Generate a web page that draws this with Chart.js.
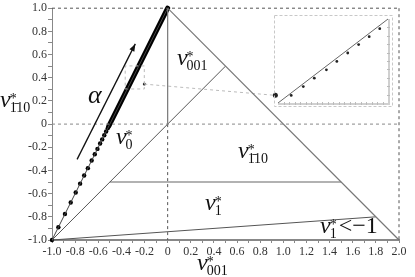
<!DOCTYPE html>
<html>
<head>
<meta charset="utf-8">
<script src="https://cdn.jsdelivr.net/npm/chart.js@4.4.1/dist/chart.umd.min.js"></script>
<style>
  body { margin: 0; background: #fff; }
  #wrap { position: relative; width: 415px; height: 277px; }
  #inset { position: absolute; left: 274px; top: 15px; }
</style>
</head>
<body>
<div id="wrap">
  <canvas id="main" width="415" height="277"></canvas>
  <canvas id="inset" width="119" height="92"></canvas>
</div>
<script>
// tick labels
const xTickLabels = [-1.0, -0.8, -0.6, -0.4, -0.2, 0, 0.2, 0.4, 0.6, 0.8, 1.0, 1.2, 1.4, 1.6, 1.8, 2.0];
const yTickLabels = [-1.0, -0.8, -0.6, -0.4, -0.2, 0, 0.2, 0.4, 0.6, 0.8, 1.0];

// region boundaries
const edgeLeft = [[-1, -1], [0, 1]];
const edgeRight = [[0, 1], [2, -1]];
const split001 = [[0, 1], [0, 0]];
const splitNu0 = [[-1, -1], [0.5, 0.5]];
const split110 = [[-0.5, -0.5], [1.5, -0.5]];
const splitNu1 = [[-1, -1], [1.8, -0.8]];

// dashed reference lines
const refY0 = [[-1, 0], [2, 0]];
const refX0 = [[0, 0], [0, -1]];
const refTop = [[-1, 1], [2, 1]];
const refRight = [[2, 1], [2, -1]];

// alpha path points (sparse part)
const alphaX = [-1.0, -0.945, -0.888, -0.838, -0.795, -0.757, -0.722, -0.690, -0.657, -0.630, -0.607, -0.584, -0.566, -0.548, -0.532, -0.518];
const alphaY = [-1.0, -0.890, -0.776, -0.676, -0.590, -0.514, -0.444, -0.380, -0.314, -0.260, -0.214, -0.168, -0.132, -0.096, -0.064, -0.036];
// dense part, dots merge into a thick line
const denseX = [-0.51, 0];
const denseY = [-0.02, 1];

// zoom box and connector
const zoomBox = [[-0.367, 0.303], [-0.202, 0.303], [-0.202, 0.502], [-0.367, 0.502], [-0.367, 0.303]];
const connector = [[-0.202, 0.345], [0.931, 0.248]];

// inset data
const insetLine = [[-0.35, 0.3], [-0.25, 0.5]];
const insetX = [-0.338, -0.327, -0.317, -0.306, -0.2965, -0.2866, -0.2767, -0.2671, -0.2575];
const insetY = [0.318, 0.339, 0.359, 0.379, 0.399, 0.419, 0.439, 0.458, 0.477];

// arrow for alpha direction
const arrowPts = [[-0.783, -0.304], [-0.28, 0.692]];

const SERIF = '"Liberation Serif", "DejaVu Serif", serif';

const pts = a => a.map(p => ({ x: p[0], y: p[1] }));
const zipPts = (xs, ys) => xs.map((x, i) => ({ x: x, y: ys[i] }));

function seg(data, color, width, dash) {
  return {
    data: pts(data), showLine: true, borderColor: color, borderWidth: width,
    borderDash: dash || [], pointRadius: 0, clip: false, tension: 0
  };
}

function drawNu(ctx, x, y, sub, tail) {
  ctx.save();
  ctx.fillStyle = '#111';
  ctx.textBaseline = 'alphabetic';
  ctx.textAlign = 'left';
  ctx.font = 'italic 24px ' + SERIF;
  ctx.fillText('\u03bd', x, y);
  const w = ctx.measureText('\u03bd').width;
  ctx.font = '14px ' + SERIF;
  ctx.fillText('*', x + w - 1, y - 4);
  ctx.fillText(sub, x + w - 1, y + 5);
  const sw = ctx.measureText(sub).width;
  if (tail) {
    ctx.font = '24px ' + SERIF;
    ctx.fillText(tail, x + w + sw + 1, y);
  }
  ctx.restore();
}

const plotLabels = [
  { sub: '001', x: 0.08, y: 0.51 },
  { sub: '0', x: -0.447, y: -0.171 },
  { sub: '1\u030410', x: 0.608, y: -0.29 },
  { sub: '1', x: 0.323, y: -0.744 },
  { sub: '1', x: 1.317, y: -0.94, tail: '<\u22121' }
];

const annotate = {
  id: 'annotate',
  afterDatasetsDraw(chart) {
    const ctx = chart.ctx, xs = chart.scales.x, ys = chart.scales.y;
    plotLabels.forEach(l => drawNu(ctx, xs.getPixelForValue(l.x), ys.getPixelForValue(l.y), l.sub, l.tail));
    // alpha
    ctx.save();
    ctx.fillStyle = '#111';
    ctx.font = 'italic 26px ' + SERIF;
    ctx.fillText('\u03b1', xs.getPixelForValue(-0.689), ys.getPixelForValue(0.18));
    // arrow
    const x1 = xs.getPixelForValue(arrowPts[0][0]), y1 = ys.getPixelForValue(arrowPts[0][1]);
    const x2 = xs.getPixelForValue(arrowPts[1][0]), y2 = ys.getPixelForValue(arrowPts[1][1]);
    ctx.strokeStyle = '#111';
    ctx.lineWidth = 1.3;
    ctx.beginPath(); ctx.moveTo(x1, y1); ctx.lineTo(x2, y2); ctx.stroke();
    const ang = Math.atan2(y2 - y1, x2 - x1);
    ctx.beginPath();
    ctx.moveTo(x2, y2);
    ctx.lineTo(x2 - 8 * Math.cos(ang - 0.35), y2 - 8 * Math.sin(ang - 0.35));
    ctx.lineTo(x2 - 8 * Math.cos(ang + 0.35), y2 - 8 * Math.sin(ang + 0.35));
    ctx.closePath(); ctx.fill();
    ctx.restore();
    // axis titles
    drawNu(ctx, 197, 270, '001');
    drawNu(ctx, 0, 107, '1\u030410');
  }
};

new Chart(document.getElementById('main'), {
  type: 'scatter',
  data: {
    datasets: [
      seg(refY0, '#888', 1, [3, 3]),
      seg(refX0, '#555', 1, [3, 3]),
      seg(refTop, '#555', 1, [3, 3]),
      seg(refRight, '#555', 1, [3, 3]),
      seg(edgeRight, '#777', 1.2),
      seg(split001, '#777', 1.2),
      seg(splitNu0, '#555', 1),
      seg(split110, '#999', 1.6),
      seg(splitNu1, '#555', 1),
      seg(edgeLeft, '#444', 1),
      seg(zoomBox, '#bbb', 1, [3, 3]),
      seg(connector, '#bbb', 1, [3, 3]),
      {
        data: pts(connector), showLine: false, pointRadius: [1.5, 2.5],
        pointBackgroundColor: '#222', pointBorderWidth: 0, clip: false
      },
      {
        data: zipPts(denseX, denseY), showLine: true, borderColor: '#000', borderWidth: 5,
        borderCapStyle: 'round', pointRadius: 0, clip: false
      },
      {
        data: zipPts(alphaX, alphaY), showLine: false, pointRadius: 2.2,
        pointBackgroundColor: '#000', pointBorderWidth: 0, clip: false
      }
    ]
  },
  options: {
    responsive: false,
    devicePixelRatio: 1,
    animation: false,
    layout: { padding: { top: 6, right: 16, left: 0, bottom: 0 } },
    plugins: { legend: { display: false }, tooltip: { enabled: false } },
    scales: {
      x: {
        type: 'linear', min: -1, max: 2,
        afterFit: s => { s.height = 37; },
        border: { color: '#888', width: 2 },
        grid: { drawOnChartArea: false, tickLength: 3, color: '#888' },
        ticks: {
          stepSize: 0.1, autoSkip: false, maxRotation: 0, padding: 2,
          color: '#333', font: { family: SERIF, size: 12 },
          callback: v => {
            const r = Math.round(v * 10) / 10;
            return xTickLabels.some(t => Math.abs(t - r) < 1e-9) ? (r === 0 ? '0' : r.toFixed(1)) : '';
          }
        }
      },
      y: {
        type: 'linear', min: -1, max: 1,
        afterFit: s => { s.width = 52; },
        border: { color: '#888', width: 1 },
        grid: { drawOnChartArea: false, tickLength: 4, color: '#888' },
        ticks: {
          stepSize: 0.1, autoSkip: false, padding: 1,
          color: '#333', font: { family: SERIF, size: 12 },
          callback: v => {
            const r = Math.round(v * 10) / 10;
            return yTickLabels.some(t => Math.abs(t - r) < 1e-9) ? (r === 0 ? '0' : r.toFixed(1)) : '';
          }
        }
      }
    }
  },
  plugins: [annotate]
});

// inset: magnified view of the zoom box
const insetFrame = {
  id: 'insetFrame',
  beforeDatasetsDraw(chart) {
    const ctx = chart.ctx, a = chart.chartArea, xs = chart.scales.x, ys = chart.scales.y;
    ctx.save();
    ctx.strokeStyle = '#c8c8c8';
    ctx.setLineDash([3, 2]);
    ctx.lineWidth = 1;
    ctx.strokeRect(0.5, 0.5, chart.width - 1, chart.height - 1);
    ctx.setLineDash([]);
    ctx.strokeStyle = '#d0d0d0';
    ctx.lineWidth = 2;
    ctx.beginPath();
    ctx.moveTo(a.left, a.bottom + 1); ctx.lineTo(a.right + 1, a.bottom + 1);
    ctx.lineTo(a.right + 1, a.top);
    ctx.stroke();
    ctx.lineWidth = 1;
    ctx.strokeStyle = '#bbb';
    ctx.beginPath();
    for (let v = -0.345; v < -0.25; v += 0.005) {
      const px = Math.round(xs.getPixelForValue(v)) + 0.5;
      ctx.moveTo(px, a.bottom + 2); ctx.lineTo(px, a.bottom - 1);
    }
    for (let v = 0.32; v < 0.5; v += 0.02) {
      const py = Math.round(ys.getPixelForValue(v)) + 0.5;
      ctx.moveTo(a.right + 2, py); ctx.lineTo(a.right - 1, py);
    }
    ctx.stroke();
    ctx.restore();
  }
};

new Chart(document.getElementById('inset'), {
  type: 'scatter',
  data: {
    datasets: [
      {
        data: pts(insetLine), showLine: true, borderColor: '#666', borderWidth: 1,
        pointRadius: 0, clip: false
      },
      {
        data: zipPts(insetX, insetY), showLine: false, pointRadius: 1.4,
        pointBackgroundColor: '#222', pointBorderWidth: 0, clip: false
      }
    ]
  },
  options: {
    responsive: false,
    devicePixelRatio: 1,
    animation: false,
    layout: { padding: { left: 3, right: 5, top: 2, bottom: 4 } },
    plugins: { legend: { display: false }, tooltip: { enabled: false } },
    scales: {
      x: { type: 'linear', min: -0.35, max: -0.25, display: false },
      y: { type: 'linear', min: 0.3, max: 0.5, display: false }
    }
  },
  plugins: [insetFrame]
});
</script>
</body>
</html>
